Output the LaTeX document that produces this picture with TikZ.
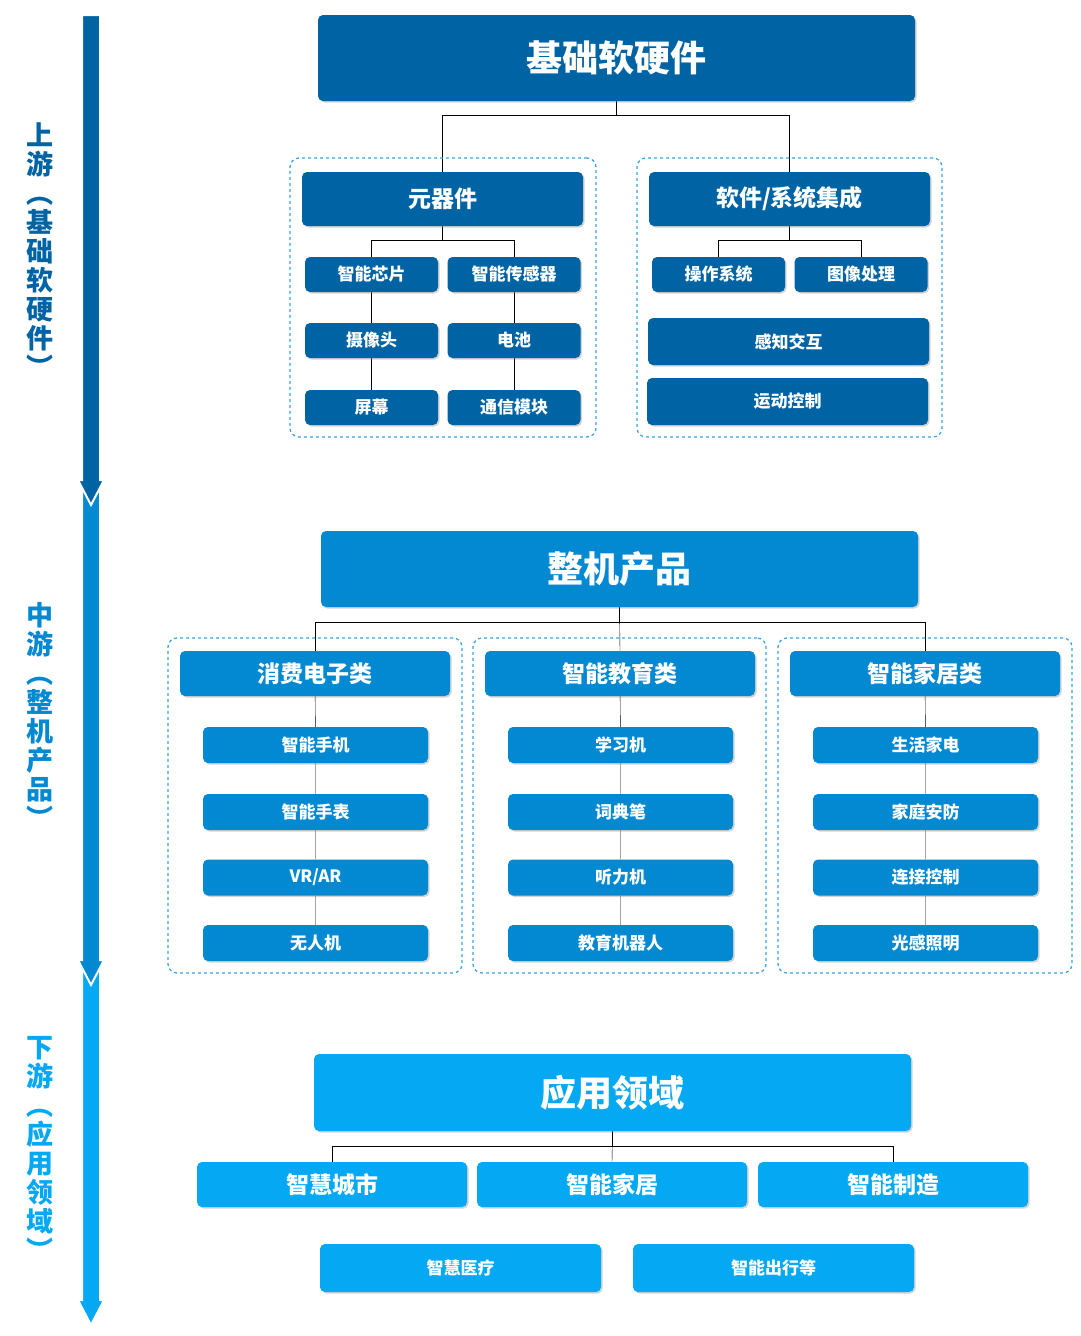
\documentclass[tikz,border=0pt]{standalone}
\usepackage{fontspec}
\setmainfont{Noto Sans CJK SC}
\usetikzlibrary{shadows,backgrounds}
\definecolor{upc}{HTML}{0063A3}
\definecolor{midc}{HTML}{0388D2}
\definecolor{lowc}{HTML}{05A8F2}
\definecolor{framec}{HTML}{3AA6DE}

\begin{document}
\begin{tikzpicture}[x=1pt,y=-1pt,
    box/.style={rounded corners=5pt,text=white,font=\bfseries,inner sep=0pt,
        drop shadow={shadow xshift=1.5pt,shadow yshift=-1.5pt,opacity=0.35}},
    frame/.style={draw=framec,dashed,line width=1.3pt,rounded corners=9pt},
    link/.style={line width=2.5pt},
    side/.style={font=\bfseries\fontsize{27}{29}\selectfont,align=center},
    ]
    \useasboundingbox (0,0) rectangle (1080,1336);
    % arrows on the left
    \fill[lowc,draw=white,line width=2pt] (82,970) -- (100,970) -- (100,1300) -- (104,1300) -- (91,1325) -- (78,1300) -- (82,1300) -- cycle;
    \fill[midc,draw=white,line width=2pt] (82,490) -- (100,490) -- (100,960) -- (104,960) -- (91,985) -- (78,960) -- (82,960) -- cycle;
    \fill[upc,draw=white,line width=2pt] (82,15) -- (100,15) -- (100,480) -- (104,480) -- (91,505) -- (78,480) -- (82,480) -- cycle;
    \node[side,text=upc] (upl) at (40,250) {上\\游\\︵\\基\\础\\软\\硬\\件\\︶};
    \node[side,text=midc] (midl) at (40,715) {中\\游\\︵\\整\\机\\产\\品\\︶};
    \node[side,text=lowc] (lowl) at (40,1148) {下\\游\\︵\\应\\用\\领\\域\\︶};

    % upstream
    \node[frame,minimum width=306pt,minimum height=279pt] (fA) at (443,297.5) {};
    \node[frame,minimum width=305pt,minimum height=279pt] (fB) at (789.5,297.5) {};
    \begin{scope}[every node/.append style={box,fill=upc}]
        \node[minimum width=597pt,minimum height=86pt,font=\bfseries\fontsize{36}{38}\selectfont] (base) at (616.5,58) {基础软硬件};
        \node[minimum width=281pt,minimum height=54pt,font=\bfseries\fontsize{23}{25}\selectfont] (parts) at (442.5,199) {元器件};
        \node[minimum width=281pt,minimum height=54pt,font=\bfseries\fontsize{23}{25}\selectfont] (soft) at (789.5,199) {软件/系统集成};
        \foreach \name/\txt/\x/\y in {chip/智能芯片/371.5/274.5, sens/智能传感器/514/274.5,
            cam/摄像头/371.5/340.5, bat/电池/514/340.5,
            scr/屏幕/371.5/407.5, comm/通信模块/514/407.5,
            os/操作系统/718.5/274.5, img/图像处理/861/274.5}
            \node[minimum width=133pt,minimum height=35pt,font=\bfseries\fontsize{17}{19}\selectfont] (\name) at (\x,\y) {\txt};
        \node[minimum width=281pt,minimum height=47pt,font=\bfseries\fontsize{17}{19}\selectfont] (sense) at (788.5,341.5) {感知交互};
        \node[minimum width=281pt,minimum height=47pt,font=\bfseries\fontsize{17}{19}\selectfont] (motion) at (787.5,401.5) {运动控制};
    \end{scope}
    \begin{scope}[on background layer,link,upc]
        \draw (base.south) -- ++(0,14) -| (parts.north);
        \draw (base.south) ++(0,14) -| (soft.north);
        \draw (parts.south) -- ++(0,14) -| (chip.north);
        \draw (parts.south) ++(0,14) -| (sens.north);
        \draw (soft.south) -- ++(0,14) -| (os.north);
        \draw (soft.south) ++(0,14) -| (img.north);
        \draw (chip) -- (cam) -- (scr);
        \draw (sens) -- (bat) -- (comm);
    \end{scope}

    % midstream
    \node[frame,minimum width=294pt,minimum height=335pt] (fC) at (315,805.5) {};
    \node[frame,minimum width=293pt,minimum height=335pt] (fD) at (619.5,805.5) {};
    \node[frame,minimum width=294pt,minimum height=335pt] (fE) at (925,805.5) {};
    \begin{scope}[every node/.append style={box,fill=midc}]
        \node[minimum width=597pt,minimum height=76pt,font=\bfseries\fontsize{36}{38}\selectfont] (prod) at (619.5,569) {整机产品};
        \foreach \name/\txt/\x in {cons/消费电子类/315, edu/智能教育类/620, home/智能家居类/925}
            \node[minimum width=270pt,minimum height=45pt,font=\bfseries\fontsize{23}{25}\selectfont] (\name) at (\x,673.5) {\txt};
        \foreach \name/\txt/\x/\y in {phone/智能手机/315.5/745, watch/智能手表/315.5/812, vr/{VR/AR}/315.5/877.5, drone/无人机/315.5/943,
            study/学习机/620.5/745, dict/词典笔/620.5/812, listen/听力机/620.5/877.5, robot/教育机器人/620.5/943,
            appl/生活家电/925.5/745, secu/家庭安防/925.5/812, ctrl/连接控制/925.5/877.5, light/光感照明/925.5/943}
            \node[minimum width=225pt,minimum height=36pt,font=\bfseries\fontsize{17}{19}\selectfont] (\name) at (\x,\y) {\txt};
    \end{scope}
    \begin{scope}[on background layer,link,midc]
        \draw (prod.south) -- ++(0,15) -| (cons.north);
        \draw (prod.south) -- (edu.north);
        \draw (prod.south) ++(0,15) -| (home.north);
        \draw (cons) -- (phone) -- (watch) -- (vr) -- (drone);
        \draw (edu) -- (study) -- (dict) -- (listen) -- (robot);
        \draw (home) -- (appl) -- (secu) -- (ctrl) -- (light);
    \end{scope}

    % downstream
    \begin{scope}[every node/.append style={box,fill=lowc}]
        \node[minimum width=597pt,minimum height=77pt,font=\bfseries\fontsize{36}{38}\selectfont] (apps) at (612.5,1092.5) {应用领域};
        \foreach \name/\txt/\x in {city/智慧城市/332, shome/智能家居/612, manu/智能制造/893}
            \node[minimum width=270pt,minimum height=45pt,font=\bfseries\fontsize{23}{25}\selectfont] (\name) at (\x,1184.5) {\txt};
        \node[minimum width=281pt,minimum height=48pt,font=\bfseries\fontsize{17}{19}\selectfont] (med) at (460.5,1268) {智慧医疗};
        \node[minimum width=281pt,minimum height=48pt,font=\bfseries\fontsize{17}{19}\selectfont] (trav) at (773.5,1268) {智能出行等};
    \end{scope}
    \begin{scope}[on background layer,link,lowc]
        \draw (apps.south) -- ++(0,15) -| (city.north);
        \draw (apps.south) -- (shome.north);
        \draw (apps.south) ++(0,15) -| (manu.north);
    \end{scope}
\end{tikzpicture}
\end{document}
